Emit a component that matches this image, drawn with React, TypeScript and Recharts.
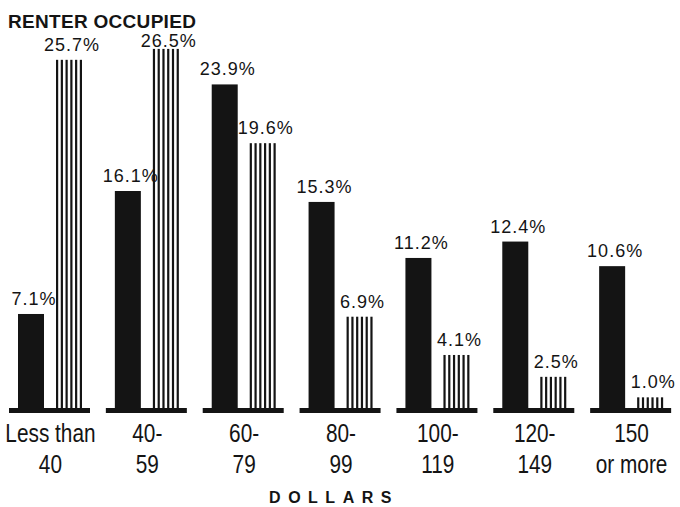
import { Bar, BarChart, LabelList, XAxis, YAxis } from "recharts";

// Rent brackets (two-line tick labels) and the two series.
const CAT_LINE1 = ["Less than", "40-", "60-", "80-", "100-", "120-", "150"];
const CAT_LINE2 = ["40", "59", "79", "99", "119", "149", "or more"];
const SOLID = [7.1, 16.1, 23.9, 15.3, 11.2, 12.4, 10.6];
const STRIPED = [25.7, 26.5, 19.6, 6.9, 4.1, 2.5, 1.0];

const BAR_SIZE = 26;
const BAR_GAP = 12;
const INK = "#141414";
const SANS = "'Liberation Sans', Arial, sans-serif";
const LABEL_MIN_Y = 47; // value labels never climb into the title

const data = CAT_LINE1.map((c, i) => ({ cat: c, solid: SOLID[i], striped: STRIPED[i] }));

const pct = (v: unknown) => `${Number(v).toFixed(1)}%`;

/* solid bar also lays down the thick per-group floor line */
function SolidShape(p: any) {
  const { x, y, width, height } = p;
  const bottom = y + height;
  return (
    <g>
      <rect x={x} y={y} width={width} height={height} fill={INK} />
      <rect x={x - 9} y={bottom - 3} width={2 * width + BAR_GAP + 17} height={5} fill={INK} />
    </g>
  );
}

/* vertical hatching: six thin rules spread across the bar */
function StripedShape(p: any) {
  const { x, y, width, height } = p;
  const n = 6;
  const lw = 2.2;
  const step = (width - lw) / (n - 1);
  return (
    <g>
      {Array.from({ length: n }, (_, i) => (
        <rect key={i} x={x + i * step} y={y} width={lw} height={height} fill={INK} />
      ))}
    </g>
  );
}

function ValueLabel(p: any) {
  const vb = p.viewBox ?? p;
  const cx = vb.x + vb.width / 2 + 3;
  const ty = Math.max(vb.y - 9, LABEL_MIN_Y);
  return (
    <text x={cx} y={ty} textAnchor="middle" fontFamily={SANS} fontSize={18} letterSpacing={1} fill={INK}>
      {pct(p.value)}
    </text>
  );
}

/* condensed two-line bracket labels (no narrow face installed, so squeeze horizontally) */
function CatTick({ x, y, payload }: any) {
  const i = payload.index;
  return (
    <g transform={`translate(${x},${y}) scale(0.8,1)`}>
      <text x={0} y={0} textAnchor="middle" fontFamily={SANS} fontSize={26} fill={INK}>
        <tspan x={0} dy={31}>{CAT_LINE1[i]}</tspan>
        <tspan x={0} dy={31}>{CAT_LINE2[i]}</tspan>
      </text>
    </g>
  );
}

export default function App() {
  return (
    <div style={{ position: "absolute", left: 0, top: 0, width: 680, height: 507, background: "#fff" }}>
      <BarChart width={680} height={507} data={data} barSize={BAR_SIZE} barGap={BAR_GAP}
        margin={{ top: 12, right: 0, bottom: 0, left: 2 }}>
        <XAxis dataKey="cat" height={96} axisLine={false} tickLine={false} tickSize={0} tickMargin={0}
          interval={0} tick={<CatTick />} />
        <YAxis hide domain={[0, 29.2]} />
        <Bar dataKey="solid" shape={<SolidShape />} isAnimationActive={false}>
          <LabelList dataKey="solid" position="top" content={<ValueLabel />} />
        </Bar>
        <Bar dataKey="striped" shape={<StripedShape />} isAnimationActive={false}>
          <LabelList dataKey="striped" position="top" content={<ValueLabel />} />
        </Bar>
      </BarChart>
      <svg width={680} height={507} style={{ position: "absolute", left: 0, top: 0, pointerEvents: "none" }}>
        <text x={8} y={28} fontFamily={SANS} fontWeight="bold" fontSize={19} letterSpacing={0.3} fill={INK}>
          RENTER OCCUPIED
        </text>
        <text x={334} y={503} textAnchor="middle" fontFamily={SANS} fontWeight="bold" fontSize={16}
          letterSpacing={7.5} fill={INK}>
          DOLLARS
        </text>
      </svg>
    </div>
  );
}
